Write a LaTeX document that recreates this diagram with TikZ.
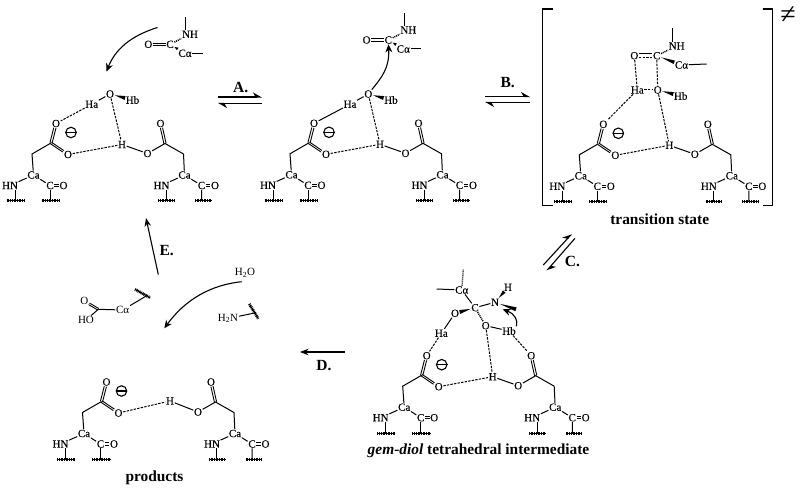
\documentclass[tikz,border=0pt]{standalone}
\usepackage{fontspec}
\setmainfont{Liberation Serif}
\newfontfamily\atomfont[FakeBold=0.12]{Liberation Serif}
\usetikzlibrary{arrows.meta,calc}
\tikzset{
  atom/.style={inner sep=0.5pt,font=\atomfont\fontsize{11}{12}\selectfont},
  thinatom/.style={inner sep=0.6pt,font=\fontsize{11}{12}\selectfont},
  step label/.style={font=\fontsize{15.5}{17}\selectfont\bfseries,inner sep=0pt},
  caption/.style={font=\fontsize{15.4}{17}\selectfont\bfseries,inner sep=0pt},
  bond/.style={line width=1pt},
  hbond/.style={line width=1pt,dash pattern=on 2.4pt off 1.2pt},
  hashwedge/.style={line width=1.5pt,dash pattern=on 1pt off 0.9pt},
  resin/.style={line width=1pt,postaction={draw,line width=3pt,dash pattern=on 0.8pt off 0.9pt}},
  curved/.style={line width=1.1pt,-{Stealth[length=8pt,width=7pt]}},
  fwd/.style={line width=1.1pt,-{Stealth[length=8.5pt,width=6.5pt]}},
  half/.style={line width=1.1pt,-{Stealth[harpoon,length=8pt,width=9pt]}},
  chargecirc/.style={circle,draw,line width=1.1pt,minimum size=10.5pt,inner sep=0pt},
  bracket/.style={line width=1.2pt},
}
\newcommand\wedgebond[3][2]{%
  \path (#2)--(#3) coordinate[pos=0](ws) coordinate[pos=1](we);
  \fill (ws)--($(we)!#1pt!90:(ws)$)--($(we)!#1pt!-90:(ws)$)--cycle;}
\newcommand\dblbond[3][1.1]{%
  \path (#2)--(#3) coordinate[pos=0](ws) coordinate[pos=1](we);
  \draw[line width=0.9pt] ($(ws)!#1pt!90:(we)$)--($(we)!#1pt!-90:(ws)$);
  \draw[line width=0.9pt] ($(ws)!#1pt!-90:(we)$)--($(we)!#1pt!90:(ws)$);}
% residue pair, origin on the shared H
\newcommand\dyad[3]{%
\begin{scope}[shift={(#2,#3)}]
  \coordinate (#1lC) at (-71,-1.5);
  \coordinate (#1lCH) at (-90,9.5);
  \coordinate (#1rC) at (43,-1);
  \coordinate (#1rCH) at (61.5,9.5);
  \node[atom] (#1lOa) at (-66,-21) {O};
  \node[atom] (#1lOb) at (-54,10) {O};
  \node[atom] (#1lCa) at (-88.5,30.5) {Ca};
  \node[atom] (#1lHN) at (-112,41) {HN};
  \node[atom] (#1lCc) at (-72,41) {C};
  \node[atom] (#1lOc) at (-58.5,41) {O};
  \node[atom] (#1rO) at (25.5,9) {O};
  \node[atom] (#1rOa) at (38.5,-21) {O};
  \node[atom] (#1rCa) at (62.5,30.5) {Ca};
  \node[atom] (#1rHN) at (39.5,41) {HN};
  \node[atom] (#1rCc) at (79.5,41) {C};
  \node[atom] (#1rOc) at (93,41) {O};
  \node[chargecirc] (#1chg) at (-51,-12) {};
  \draw[line width=1.3pt] (#1chg.west)--(#1chg.east);
  \coordinate (#1lha) at (-115.3,56.5); \coordinate (#1lhb) at (-98,56.5);
  \coordinate (#1lhm) at (-107,56.5);
  \coordinate (#1lca) at (-80.3,56.5); \coordinate (#1lcb) at (-62,56.5);
  \coordinate (#1lcm) at (-72,56.5);
  \coordinate (#1rha) at (36.3,56.5); \coordinate (#1rhb) at (53,56.5);
  \coordinate (#1rhm) at (44.3,56.5);
  \coordinate (#1rca) at (73,56.5); \coordinate (#1rcb) at (89.7,56.5);
  \coordinate (#1rcm) at (79.7,56.5);
  \dblbond{#1lC}{#1lOa}
  \dblbond[0.9]{#1lC}{#1lOb}
  \draw[bond] (#1lC)--(#1lCH)--(#1lCa);
  \draw[bond] (#1lCa)--(#1lHN);
  \draw[bond] (#1lCa)--(#1lCc);
  \dblbond{#1lCc}{#1lOc}
  \draw[bond] (#1lhm|-#1lHN.south)--(#1lhm);
  \draw[bond] (#1lCc)--(#1lcm);
  \draw[resin] (#1lha)--(#1lhb);
  \draw[resin] (#1lca)--(#1lcb);
  \draw[bond] (#1rO)--(#1rC)--(#1rCH)--(#1rCa);
  \dblbond{#1rC}{#1rOa}
  \draw[bond] (#1rCa)--(#1rHN);
  \draw[bond] (#1rCa)--(#1rCc);
  \dblbond{#1rCc}{#1rOc}
  \draw[bond] (#1rhm|-#1rHN.south)--(#1rhm);
  \draw[bond] (#1rCc)--(#1rcm);
  \draw[resin] (#1rha)--(#1rhb);
  \draw[resin] (#1rca)--(#1rcb);
\end{scope}}
% amide carbonyl
\newcommand\amide[3]{%
\begin{scope}[shift={(#2,#3)}]
  \node[atom] (#1C) at (0,0) {C};
  \node[atom] (#1O) at (-21.7,0) {O};
  \node[atom] (#1NH) at (20,-10) {NH};
  \node[atom] (#1Ca) at (15,9) {Cα};
  \coordinate (#1top) at (15.8,-27);
  \coordinate (#1end) at (33,9);
  \dblbond[1.3]{#1O}{#1C}
  \draw[hashwedge] (#1C)--(#1NH);
  \wedgebond[1.5]{#1C}{#1Ca}
  \draw[bond] (#1NH.north-|#1top)--(#1top);
  \draw[bond] (#1Ca)--(#1end);
\end{scope}}
\begin{document}
\begin{tikzpicture}[x=1pt,y=-1pt]
\useasboundingbox (0,0) rectangle (800,489);
%% panel 1
\dyad{a}{122}{144.5}
\node[atom] (aH) at (122,144.5) {H};
\node[atom] (aW) at (110,94) {O};
\node[atom] (aHa) at (91.7,104.3) {Ha};
\node[atom] (aHb) at (132.5,100) {Hb};
\draw[bond] (aHa)--(aW);
\wedgebond{aW}{aHb}
\draw[hbond] (aW)--(aH);
\draw[hbond] (aHa)--(alOa);
\draw[hbond] (alOb)--(aH);
\draw[bond] (aH)--(arO);
\amide{as}{170}{44.3}
\coordinate (aArrS) at (157.5,27.5);
\coordinate (aArrE) at (106.5,71.5);
\draw[curved] (aArrS) .. controls (130,36) and (115,50) .. (aArrE);
%% panel 2
\dyad{b}{380}{144.3}
\node[atom] (bH) at (380,144.3) {H};
\node[atom] (bW) at (368.3,94) {O};
\node[atom] (bHa) at (350,104.3) {Ha};
\node[atom] (bHb) at (391,100) {Hb};
\draw[bond] (bHa)--(bW);
\wedgebond{bW}{bHb}
\draw[hbond] (bW)--(bH);
\draw[bond] (bHa)--(blOa);
\draw[hbond] (blOb)--(bH);
\draw[bond] (bH)--(brO);
\amide{bs}{388.3}{40}
\draw[curved] (bW) .. controls (382,77) and (389.5,68) .. (bsC);
%% panel 3
\dyad{c}{669.3}{145.3}
\node[atom] (cH) at (669.3,145.3) {H};
\node[atom] (cW) at (657.7,90) {O};
\node[atom] (cHa) at (637.3,90) {Ha};
\node[atom] (cHb) at (680.7,96) {Hb};
\node[atom] (csC) at (656.7,55.7) {C};
\node[atom] (csO) at (634.3,55.7) {O};
\node[atom] (csNH) at (676.7,46) {NH};
\node[atom] (csCa) at (681.5,65) {Cα};
\coordinate (cstop) at (672.3,28.3);
\coordinate (csend) at (706.7,64);
\draw[bond] ([yshift=2pt]csO.east)--([yshift=2pt]csC.west);
\draw[hbond] ([yshift=-2pt]csO.east)--([yshift=-2pt]csC.west);
\draw[hashwedge] (csC)--(csNH);
\wedgebond[1.8]{csC}{csCa}
\draw[bond] (csNH.north-|cstop)--(cstop);
\draw[bond] (csCa)--(csend);
\draw[hbond] (csO)--(cHa);
\draw[hbond] (csC)--(cW);
\draw[hbond] (cHa)--(cW);
\wedgebond{cW}{cHb}
\draw[hbond] (cW)--(cH);
\draw[hbond] (cHa)--(clOa);
\draw[hbond] (clOb)--(cH);
\draw[bond] (cH)--(crO);
\coordinate (lbA) at (552.7,9); \coordinate (lbB) at (542.7,9);
\coordinate (lbC) at (542.7,205.7); \coordinate (lbD) at (552.7,205.7);
\coordinate (rbA) at (762.7,9); \coordinate (rbB) at (772.3,9);
\coordinate (rbC) at (772.3,205.7); \coordinate (rbD) at (762.7,205.7);
\draw[bracket] (lbA)--(lbB)--(lbC)--(lbD);
\draw[bracket] (rbA)--(rbB)--(rbC)--(rbD);
\node[inner sep=0pt,font=\fontsize{28}{29}\selectfont] (ts) at (788,15) {≠};
\node[caption] (tsl) at (659.7,219.5) {transition state};
%% panel 4
\dyad{d}{492.7}{376.7}
\node[atom] (dH) at (492.7,376.7) {H};
\node[atom] (dCa) at (461.7,290) {Cα};
\node[atom] (dC) at (475,307.7) {C};
\node[atom] (dN) at (495,302.3) {N};
\node[atom] (dNH) at (508,287.3) {H};
\node[atom] (dOa) at (455,313.3) {O};
\node[atom] (dHa) at (441.3,333.3) {Ha};
\node[atom] (dOb) at (485.7,325.7) {O};
\node[atom] (dHb) at (509,331) {Hb};
\coordinate (dl1) at (436.7,289);
\coordinate (dl2) at (463.3,269.3);
\coordinate (dl3) at (516,309.3);
\draw[bond] (dl1)--(dCa);
\draw[line width=1.4pt,dash pattern=on 1pt off 1pt] (dCa)--(dl2);
\draw[bond] (dCa)--(dC);
\draw[bond] (dC)--(dN);
\wedgebond{dN}{dl3}
\wedgebond[1.8]{dN}{dNH}
\wedgebond{dC}{dOa}
\draw[bond] (dOa)--(dHa);
\draw[hbond] (dHa)--(dlOa);
\draw[hashwedge] (dC)--(dOb);
\draw[bond] (dOb)--(dHb);
\draw[hbond] (dHb)--(drOa);
\draw[hbond] (dOb)--(dH);
\draw[hbond] (dlOb)--(dH);
\draw[bond] (dH)--(drO);
\coordinate (dArrE) at (502.7,309.3);
\draw[curved] (dHb.north east) .. controls (518,320) and (515,314) .. (dArrE);
\node[caption] (dcap) at (478.5,451) {\textit{gem-diol} tetrahedral intermediate};
%% panel 5
\dyad{e}{172.5}{403}
\node[atom] (eH) at (170,401) {H};
\draw[hbond] (elOb)--(eH);
\draw[bond] (eH)--(erO);
\node[caption] (ecap) at (154.5,477.5) {products};
%% leaving fragments
\node[thinatom] (fO) at (84.3,301) {O};
\node[thinatom] (fHO) at (86,320) {HO};
\coordinate (fC) at (98.3,309.3);
\node[thinatom] (fCa) at (122.7,310) {Cα};
\coordinate (fh1) at (135,289.3); \coordinate (fh2) at (150,297.7);
\coordinate (fhm) at (146.7,295.7);
\dblbond[0.9]{fO}{fC}
\draw[bond] (fHO)--(fC)--(fCa);
\draw[bond] (fCa)--(fhm);
\draw[resin] (fh1)--(fh2);
\node[thinatom] (gW) at (245,272.7) {H\textsubscript{2}O};
\node[thinatom] (gN) at (228,318.5) {H\textsubscript{2}N};
\coordinate (gh1) at (249.3,304); \coordinate (gh2) at (258.3,318.7);
\coordinate (ghm) at (256,312.7);
\draw[bond] (gN)--(ghm);
\draw[resin] (gh1)--(gh2);
\coordinate (gArrS) at (241.7,281.7);
\coordinate (gArrE) at (164.3,328.3);
\draw[curved] (gArrS) .. controls (210,285) and (185,300) .. (gArrE);
%% step arrows
\coordinate (A1) at (218,97); \coordinate (A2) at (262,97);
\coordinate (A3) at (262,103.5); \coordinate (A4) at (218,103.5);
\draw[half] (A1)--(A2); \draw[half] (A3)--(A4);
\node[step label] (lA) at (240.7,87) {A.};
\coordinate (B1) at (485,96.5); \coordinate (B2) at (530,96.5);
\coordinate (B3) at (530,102.5); \coordinate (B4) at (485,102.5);
\draw[half] (B1)--(B2); \draw[half] (B3)--(B4);
\node[step label] (lB) at (507.7,83) {B.};
\coordinate (C1) at (543.3,265); \coordinate (C2) at (571.7,234);
\coordinate (C3) at (575,238.3); \coordinate (C4) at (546.7,270.7);
\draw[half] (C1)--(C2); \draw[half] (C3)--(C4);
\node[step label] (lC) at (572.5,261.5) {C.};
\coordinate (D1) at (345,352); \coordinate (D2) at (300,352);
\draw[fwd] (D1)--(D2);
\node[step label] (lD) at (324,366) {D.};
\coordinate (E1) at (158.3,274.5); \coordinate (E2) at (146,218);
\draw[fwd] (E1)--(E2);
\node[step label] (lE) at (166.7,250.7) {E.};
\end{tikzpicture}
\end{document}
